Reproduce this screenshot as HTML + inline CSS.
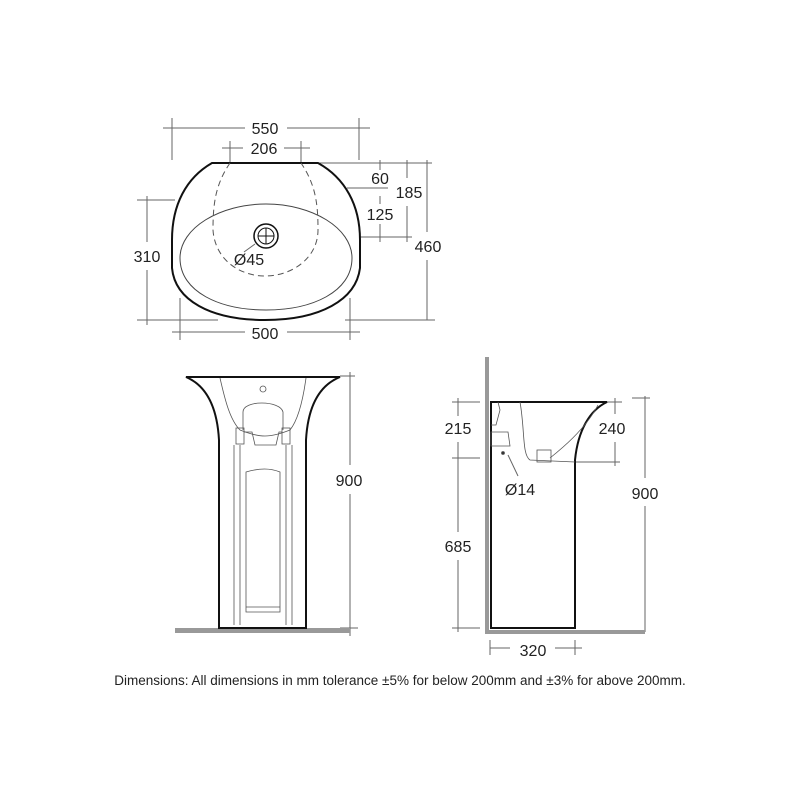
<!DOCTYPE html>
<html><head><style>
html,body{margin:0;padding:0;background:#fff;}
svg{display:block}
text{font-family:"Liberation Sans",Arial,sans-serif;fill:#222}
</style></head><body>
<svg width="800" height="800" viewBox="0 0 800 800" xmlns="http://www.w3.org/2000/svg">
<g stroke="#666" stroke-width="1" fill="none">
  <line x1="163" y1="128" x2="245" y2="128"/><line x1="287" y1="128" x2="370" y2="128"/>
  <line x1="172" y1="118" x2="172" y2="160"/><line x1="359" y1="118" x2="359" y2="160"/>
  <line x1="222" y1="148" x2="243" y2="148"/><line x1="284" y1="148" x2="310" y2="148"/>
  <line x1="230" y1="141" x2="230" y2="163"/><line x1="301" y1="141" x2="301" y2="163"/>
  <line x1="318" y1="163" x2="432" y2="163"/>
  <line x1="347" y1="188" x2="388" y2="188"/>
  <line x1="360" y1="237" x2="412" y2="237"/>
  <line x1="380" y1="160" x2="380" y2="170"/><line x1="380" y1="196" x2="380" y2="204"/><line x1="380" y1="224" x2="380" y2="242"/>
  <line x1="407" y1="160" x2="407" y2="178"/><line x1="407" y1="206" x2="407" y2="242"/>
  <line x1="427" y1="160" x2="427" y2="232"/><line x1="427" y1="260" x2="427" y2="320"/>
  <line x1="345" y1="320" x2="435" y2="320"/>
  <line x1="137" y1="200" x2="175" y2="200"/><line x1="137" y1="320" x2="218" y2="320"/>
  <line x1="147" y1="196" x2="147" y2="242"/><line x1="147" y1="270" x2="147" y2="325"/>
  <line x1="172" y1="332" x2="245" y2="332"/><line x1="287" y1="332" x2="360" y2="332"/>
  <line x1="180" y1="298" x2="180" y2="340"/><line x1="350" y1="298" x2="350" y2="340"/>
  <line x1="340" y1="376" x2="355" y2="376"/>
  <line x1="350" y1="372" x2="350" y2="465"/><line x1="350" y1="494" x2="350" y2="636"/>
  <line x1="340" y1="628" x2="358" y2="628"/>
  <line x1="452" y1="402" x2="480" y2="402"/><line x1="452" y1="458" x2="480" y2="458"/><line x1="452" y1="628" x2="480" y2="628"/>
  <line x1="458" y1="398" x2="458" y2="416"/><line x1="458" y1="442" x2="458" y2="532"/><line x1="458" y1="560" x2="458" y2="632"/>
  <line x1="598" y1="402" x2="622" y2="402"/><line x1="575" y1="462" x2="620" y2="462"/>
  <line x1="615" y1="398" x2="615" y2="414"/><line x1="615" y1="442" x2="615" y2="466"/>
  <line x1="632" y1="398" x2="650" y2="398"/>
  <line x1="645" y1="396" x2="645" y2="478"/><line x1="645" y1="506" x2="645" y2="632"/>
  <line x1="490" y1="648" x2="510" y2="648"/><line x1="555" y1="648" x2="582" y2="648"/>
  <line x1="490" y1="640" x2="490" y2="655"/><line x1="575" y1="640" x2="575" y2="655"/>
  <line x1="508" y1="455" x2="518" y2="476"/>
  <line x1="255" y1="244" x2="244" y2="252"/>
</g>
<g fill="none" stroke="#111">
  <path d="M212,163 L318,163 C345,178 360,205 360,240 L360,268 C356,300 320,320 265,320 C210,320 175,300 172,268 L172,240 C172,205 186,178 212,163 Z" stroke-width="2"/>
  <path d="M180,258 C180,228 220,204 266,204 C312,204 352,228 352,258 C352,292 312,310 266,310 C220,310 180,292 180,258 Z" stroke-width="1" stroke="#444"/>
  <path d="M230,163 C215,185 213,205 213,230 C215,260 240,276 265,276 C292,276 318,258 318,230 C318,205 316,185 301,163" stroke="#555" stroke-dasharray="6,4"/>
  <circle cx="266" cy="236" r="12" stroke-width="1.5"/><circle cx="266" cy="236" r="8"/>
  <line x1="258" y1="236" x2="274" y2="236"/><line x1="266" y1="228" x2="266" y2="244"/>
</g>
<rect x="175" y="628" width="175" height="5" fill="#999"/>
<g fill="none" stroke="#111">
  <path d="M186,377 L340,377 C320,385 308,405 306,440 L306,628 L219,628 L219,440 C217,405 205,385 186,377 Z" stroke-width="2"/>
  <g stroke="#555" stroke-width="0.8">
  <path d="M220,378 C225,400 230,420 240,430 C260,438 270,438 290,430 C298,420 303,400 306,378"/>
  <path d="M243,430 L243,412 C243,400 280,400 283,412 L283,430"/>
  <rect x="236" y="428" width="8" height="16"/><rect x="282" y="428" width="8" height="16"/>
  <path d="M244,432 L252,432 L255,445 L276,445 L279,432 L282,432"/>
  <path d="M234,445 L234,625 M240,445 L240,625 M286,445 L286,625 M292,445 L292,625"/>
  <path d="M246,472 C260,468 270,468 280,472 L280,612 L246,612 Z"/>
  <line x1="246" y1="607" x2="280" y2="607"/>
  <circle cx="263" cy="389" r="3"/>
  </g>
</g>
<rect x="485" y="357" width="4" height="277" fill="#999"/>
<rect x="485" y="630" width="160" height="4" fill="#999"/>
<g fill="none" stroke="#111">
  <path d="M491,402 L607,402 C590,410 578,430 575,460 L575,628 L491,628 Z" stroke-width="2"/>
  <g stroke="#555" stroke-width="0.8">
  <path d="M520,402 C525,430 522,455 530,460 L575,462"/>
  <path d="M598,405 C585,430 560,450 550,458"/>
  <path d="M498,402 L500,410 L496,425 L491,425"/>
  <rect x="537" y="450" width="14" height="12"/>
  <path d="M491,446 L491,432 L508,432 L510,446 Z"/>
  <circle cx="503" cy="453" r="1.5" fill="#333"/>
  </g>
</g>
<g font-size="16" text-anchor="middle">
  <text x="265" y="134">550</text>
  <text x="264" y="154">206</text>
  <text x="380" y="184">60</text>
  <text x="409" y="198">185</text>
  <text x="380" y="220">125</text>
  <text x="428" y="252">460</text>
  <text x="147" y="262">310</text>
  <text x="249" y="265">Ø45</text>
  <text x="265" y="339">500</text>
  <text x="349" y="486">900</text>
  <text x="458" y="434">215</text>
  <text x="612" y="434">240</text>
  <text x="520" y="495">Ø14</text>
  <text x="645" y="499">900</text>
  <text x="458" y="552">685</text>
  <text x="533" y="656">320</text>
</g>
<text x="400" y="685" font-size="13.5" text-anchor="middle">Dimensions: All dimensions in mm tolerance ±5% for below 200mm and ±3% for above 200mm.</text>
</svg>
</body></html>
